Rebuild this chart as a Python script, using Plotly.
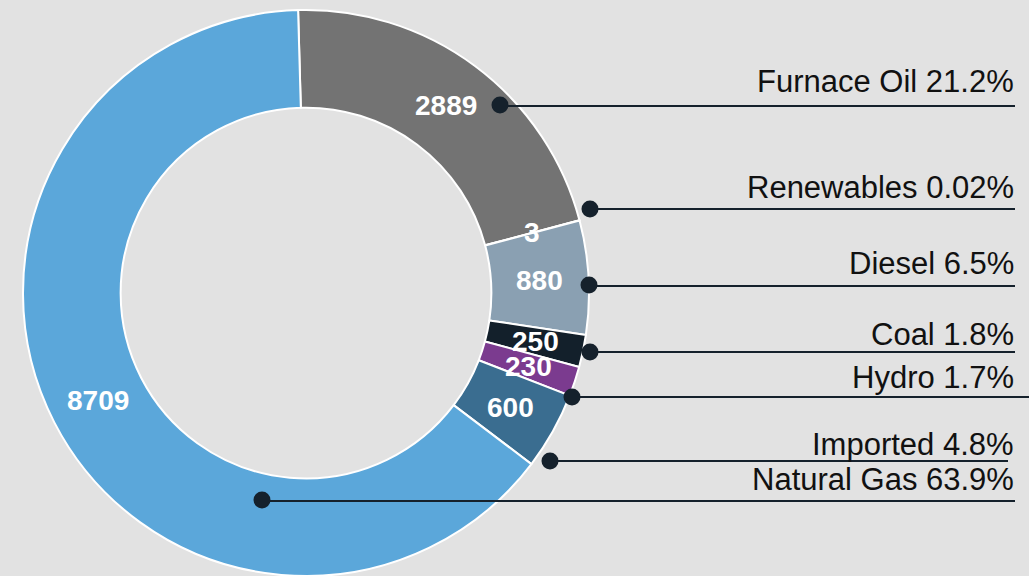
import math
import plotly.graph_objects as go

W, H = 1029, 576

# ---- data ----
categories = ["Furnace Oil", "Renewables", "Diesel", "Coal", "Hydro", "Imported", "Natural Gas"]
values = [2889, 3, 880, 250, 230, 600, 8709]
share_labels = ["21.2%", "0.02%", "6.5%", "1.8%", "1.7%", "4.8%", "63.9%"]

# ---- style / layout ----
colors = ["#737373", "#7f8f9c", "#8aa0b2", "#13202b", "#7b3b8f", "#3a6d90", "#5ba7da"]
BG = "#e2e2e2"
LEADER = "#15212c"
FONT = "Liberation Sans, Arial, sans-serif"
# leader anchors (pixel positions of dots), line y / line end, label baselines
dot_px = [(500, 105), (590, 209), (589, 285), (590, 352), (572, 397), (550, 461), (262, 500)]
line_y = [106, 209, 286, 352, 397, 461, 501]
line_end = [1015, 1015, 1015, 1015, 1029, 1008, 1015]
label_mid_y = [81, 187, 263, 334, 377, 444, 479]
label_right = 1016

cx, top, R = 306, 10, 283
HOLE = 0.655
ROT = -1.6
cy = top + R


def px(x):
    return x / W


def py(y):
    return 1 - y / H


fig = go.Figure()
fig.add_trace(go.Pie(
    labels=categories,
    values=values,
    sort=False,
    direction="clockwise",
    rotation=ROT,
    hole=HOLE,
    marker=dict(colors=colors, line=dict(color="white", width=2)),
    textinfo="none",
    domain=dict(x=[(cx - R) / W, (cx + R) / W], y=[0, 1 - top / H]),
    showlegend=False,
    hoverinfo="label+value",
))

# value labels at the middle of each ring segment (derived from the values)
total = sum(values)
rmid = R * (1 + HOLE) / 2
cum = 0
for v in values:
    ang = math.radians(ROT + (cum + v / 2) / total * 360)
    cum += v
    tx = cx + rmid * math.sin(ang)
    ty = cy - rmid * math.cos(ang)
    fig.add_annotation(
        x=px(tx), y=py(ty), xref="paper", yref="paper",
        text=f"<b>{v}</b>", showarrow=False, xanchor="center", yanchor="middle",
        font=dict(family=FONT, size=28, color="white"),
    )

shapes = []
for i, cat in enumerate(categories):
    dx, dy = dot_px[i]
    shapes.append(dict(
        type="line", xref="paper", yref="paper", layer="above",
        x0=px(dx), x1=px(line_end[i]), y0=py(line_y[i]), y1=py(line_y[i]),
        line=dict(color=LEADER, width=2),
    ))
for i, cat in enumerate(categories):
    dx, dy = dot_px[i]
    shapes.append(dict(
        type="circle", xref="paper", yref="paper", layer="above",
        xsizemode="pixel", ysizemode="pixel",
        xanchor=px(dx), yanchor=py(dy), x0=-8.5, x1=8.5, y0=-8.5, y1=8.5,
        fillcolor=LEADER, line=dict(color=LEADER, width=0),
    ))
    fig.add_annotation(
        x=px(label_right), y=py(label_mid_y[i]), xref="paper", yref="paper",
        text=f"{cat} {share_labels[i]}", showarrow=False,
        xanchor="right", yanchor="middle",
        font=dict(family=FONT, size=31, color="#111111"),
    )

fig.update_layout(
    width=W, height=H,
    margin=dict(l=0, r=0, t=0, b=0),
    paper_bgcolor=BG, plot_bgcolor="rgba(0,0,0,0)",
    shapes=shapes,
)

fig.write_html(
    "out.html",
    config={"displayModeBar": False},
    post_script="document.body.style.margin='0';document.body.style.overflow='hidden';",
)
